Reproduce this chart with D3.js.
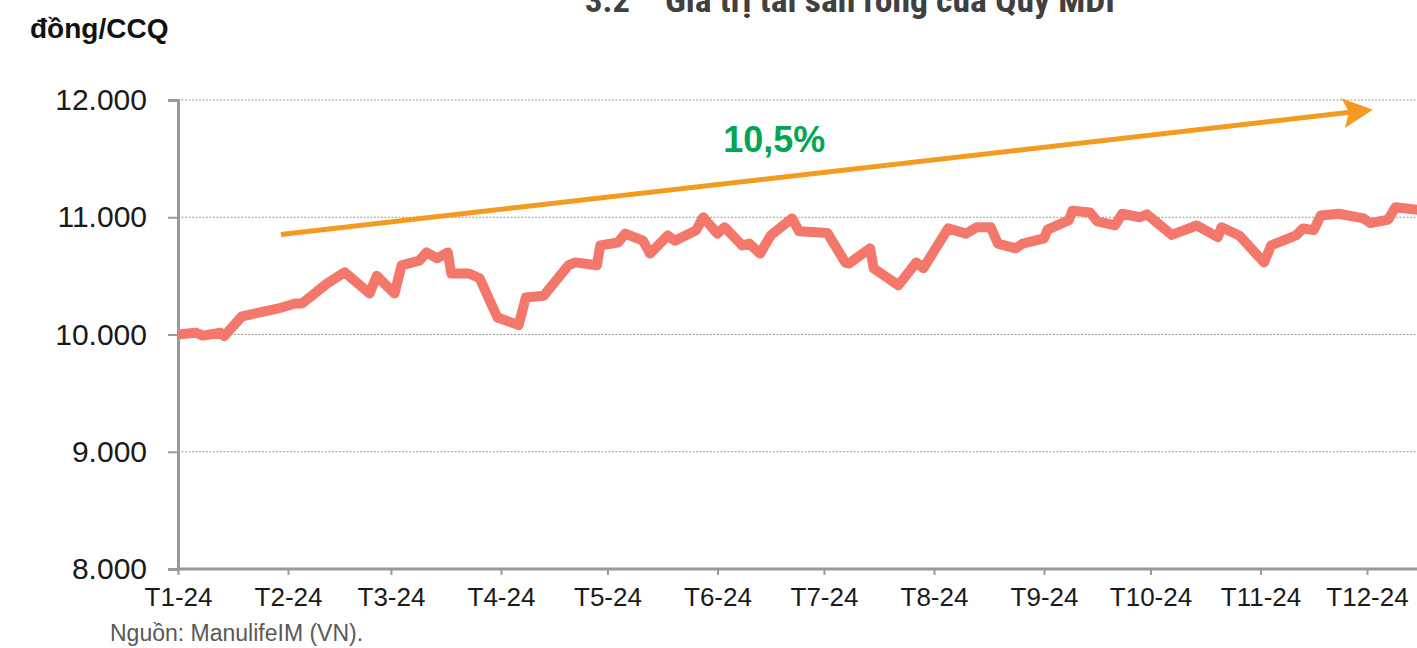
<!DOCTYPE html>
<html>
<head>
<meta charset="utf-8">
<script src="https://cdn.jsdelivr.net/npm/d3@7"></script>
<style>
  body { margin: 0; background: #fff; }
  svg { display: block; }
  .sans { font-family: "Liberation Sans", Arial, sans-serif; }
  .narrow { font-family: "Liberation Sans Narrow", "Arial Narrow", "Roboto Condensed", "Liberation Sans", sans-serif; }
</style>
</head>
<body>
<svg id="chart" width="1417" height="648"></svg>
<script>
// NAV per fund unit (dates approximate)
const navDates = [
  "2024-01-01", "2024-01-06", "2024-01-08", "2024-01-13", "2024-01-14", "2024-01-19",
  "2024-01-29", "2024-02-03", "2024-02-05", "2024-02-12", "2024-02-17", "2024-02-24",
  "2024-02-26", "2024-03-02", "2024-03-04", "2024-03-09", "2024-03-11", "2024-03-14",
  "2024-03-17", "2024-03-18", "2024-03-23", "2024-03-26", "2024-03-31", "2024-04-06",
  "2024-04-08", "2024-04-13", "2024-04-20", "2024-04-22", "2024-04-28", "2024-04-29",
  "2024-05-04", "2024-05-06", "2024-05-11", "2024-05-13", "2024-05-18", "2024-05-20",
  "2024-05-26", "2024-05-28", "2024-06-01", "2024-06-03", "2024-06-08", "2024-06-10",
  "2024-06-13", "2024-06-16", "2024-06-22", "2024-06-24", "2024-07-02", "2024-07-07",
  "2024-07-08", "2024-07-14", "2024-07-15", "2024-07-22", "2024-07-27", "2024-07-29",
  "2024-08-05", "2024-08-10", "2024-08-13", "2024-08-17", "2024-08-19", "2024-08-24",
  "2024-08-26", "2024-09-01", "2024-09-02", "2024-09-08", "2024-09-09", "2024-09-14",
  "2024-09-16", "2024-09-21", "2024-09-23", "2024-09-28", "2024-09-30", "2024-10-07",
  "2024-10-14", "2024-10-20", "2024-10-21", "2024-10-26", "2024-11-02", "2024-11-04",
  "2024-11-11", "2024-11-13", "2024-11-16", "2024-11-18", "2024-11-23", "2024-11-30",
  "2024-12-02", "2024-12-07", "2024-12-09", "2024-12-16"
];
const navValues = [
  10000, 10015, 9990, 10015, 9985, 10155,
  10220, 10265, 10265, 10435, 10530, 10350,
  10500, 10350, 10590, 10630, 10700, 10650,
  10700, 10520, 10520, 10480, 10145, 10080,
  10315, 10330, 10590, 10615, 10590, 10760,
  10785, 10860, 10800, 10690, 10845, 10800,
  10890, 11000, 10860, 10915, 10760, 10775,
  10690, 10845, 10990, 10880, 10865, 10615,
  10605, 10735, 10565, 10420, 10615, 10565,
  10905, 10860, 10915, 10915, 10775, 10735,
  10775, 10820, 10895, 10975, 11055, 11040,
  10965, 10930, 11030, 11000, 11025, 10850,
  10930, 10830, 10915, 10845, 10615, 10760,
  10845, 10905, 10890, 11015, 11030, 10990,
  10950, 10980, 11085, 11060
];

const yTicks = [8000, 9000, 10000, 11000, 12000];
const monthTicks = ["2024-01-01", "2024-02-01", "2024-03-01", "2024-04-01", "2024-05-01", "2024-06-01",
  "2024-07-01", "2024-08-01", "2024-09-01", "2024-10-01", "2024-11-01", "2024-12-01"];
const monthLabels = ["T1-24", "T2-24", "T3-24", "T4-24", "T5-24", "T6-24",
  "T7-24", "T8-24", "T9-24", "T10-24", "T11-24", "T12-24"];

// trend arrow (start / end in data space) and its label
const trendDates = ["2024-01-30", "2024-12-01"];
const trendValues = [10853, 11912];
const trendLabel = "10,5%";
const trendLabelAt = ["2024-06-17", 11556];

const parse = d3.timeParse("%Y-%m-%d");
const svg = d3.select("#chart");

const x = d3.scaleTime()
  .domain([parse("2024-01-01"), parse("2025-01-01")])
  .range([178, 1477]);
const y = d3.scaleLinear().domain([8000, 12000]).range([569, 100]);

const fmt = v => d3.format(",")(v).replace(/,/g, ".");

// gridlines
svg.append("g")
  .selectAll("line")
  .data(yTicks.filter(v => v > 8000))
  .join("line")
  .attr("x1", 178).attr("x2", 1417)
  .attr("y1", d => y(d)).attr("y2", d => y(d))
  .attr("stroke", "#9a9a9a")
  .attr("stroke-width", 1)
  .attr("stroke-dasharray", "2,1.5");

// y axis
const yAxis = svg.append("g")
  .attr("transform", "translate(178,0)")
  .call(d3.axisLeft(y).tickValues(yTicks).tickFormat(fmt).tickSize(10).tickPadding(21));
yAxis.select(".domain").attr("stroke", "#999").attr("stroke-width", 3);
yAxis.selectAll(".tick line").attr("stroke", "#999").attr("stroke-width", 2);
yAxis.selectAll("text")
  .attr("class", "sans")
  .attr("font-size", 30)
  .attr("fill", "#1a1a1a");

// x axis
const xAxis = svg.append("g")
  .attr("transform", "translate(0,569)")
  .call(d3.axisBottom(x)
    .tickValues(monthTicks.map(parse))
    .tickFormat((d, i) => monthLabels[i])
    .tickSize(6).tickPadding(13));
xAxis.select(".domain").attr("stroke", "#999").attr("stroke-width", 3)
  .attr("d", "M178,0H1417");
xAxis.selectAll(".tick line").attr("stroke", "#999").attr("stroke-width", 2);
xAxis.selectAll("text")
  .attr("class", "sans")
  .attr("font-size", 26)
  .attr("fill", "#1a1a1a");

// NAV line
const navData = navDates.map((d, i) => ({ date: parse(d), value: navValues[i] }));
svg.append("path")
  .datum(navData)
  .attr("fill", "none")
  .attr("stroke", "#F3776B")
  .attr("stroke-width", 10)
  .attr("stroke-linejoin", "round")
  .attr("d", d3.line().x(d => x(d.date)).y(d => y(d.value)));

// trend arrow
svg.append("defs").append("marker")
  .attr("id", "arrowhead")
  .attr("viewBox", "0 0 10 10")
  .attr("refX", 8).attr("refY", 5)
  .attr("markerWidth", 6).attr("markerHeight", 6)
  .attr("markerUnits", "strokeWidth")
  .attr("orient", "auto")
  .append("path")
  .attr("d", "M0,0 L10,5 L0,10 L2,5 Z")
  .attr("fill", "#F39A20");

const tx = trendDates.map(d => x(parse(d)));
const ty = trendValues.map(v => y(v));
svg.append("line")
  .attr("x1", tx[0]).attr("y1", ty[0])
  .attr("x2", tx[1]).attr("y2", ty[1])
  .attr("stroke", "#F39A20")
  .attr("stroke-width", 5)
  .attr("marker-end", "url(#arrowhead)");

svg.append("text")
  .attr("class", "sans")
  .attr("x", x(parse(trendLabelAt[0])))
  .attr("y", y(trendLabelAt[1]))
  .attr("text-anchor", "middle")
  .attr("font-size", 36)
  .attr("font-weight", "bold")
  .attr("fill", "#00A651")
  .text(trendLabel);

// titles and notes (title sits partly above the top edge, as in the source)
const title = svg.append("g").attr("class", "narrow")
  .attr("font-size", 34).attr("font-weight", "bold").attr("fill", "#404040");
title.append("text")
  .attr("x", 585).attr("y", 12)
  .attr("textLength", 45).attr("lengthAdjust", "spacingAndGlyphs")
  .text("3.2");
title.append("text")
  .attr("x", 665).attr("y", 12)
  .attr("textLength", 450).attr("lengthAdjust", "spacingAndGlyphs")
  .text("Giá trị tài sản ròng của Quỹ MDI");

svg.append("text")
  .attr("class", "sans")
  .attr("x", 30).attr("y", 38)
  .attr("font-size", 28)
  .attr("font-weight", "bold")
  .attr("fill", "#111")
  .text("đồng/CCQ");

svg.append("text")
  .attr("class", "sans")
  .attr("x", 110).attr("y", 641)
  .attr("font-size", 23)
  .attr("fill", "#595959")
  .text("Nguồn: ManulifeIM (VN).");
</script>
</body>
</html>
